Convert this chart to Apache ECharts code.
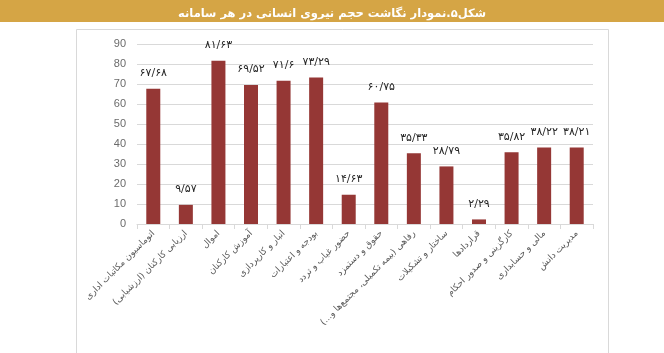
<!DOCTYPE html>
<html>
<head>
<meta charset="utf-8">
<script src="https://cdn.jsdelivr.net/npm/echarts@6/dist/echarts.min.js"></script>
<style>
html, body { margin: 0; padding: 0; background: #fff; }
#main { width: 664px; height: 353px; }
</style>
</head>
<body>
<div id="main" dir="rtl"></div>
<script>
var titleText = 'شکل۵.نمودار نگاشت حجم نیروی انسانی در هر سامانه';

var systems = [
	'اتوماسیون مکاتبات اداری',
	'ارزیابی کارکنان (ارزشیابی)',
	'اموال',
	'آموزش کارکنان',
	'انبار و کارپردازی',
	'بودجه و اعتبارات',
	'حضور غیاب و تردد',
	'حقوق و دستمزد',
	'رفاهی (بیمه تکمیلی، مجتمع‌ها و...)',
	'ساختار و تشکیلات',
	'قراردادها',
	'کارگزینی و صدور احکام',
	'مالی و حسابداری',
	'مدیریت دانش'
];

var staffVolume = [67.68, 9.57, 81.63, 69.52, 71.6, 73.29, 14.63, 60.75, 35.33, 28.79, 2.29, 35.82, 38.22, 38.21];

var yTicks = [0, 10, 20, 30, 40, 50, 60, 70, 80, 90];

var faDigits = '۰۱۲۳۴۵۶۷۸۹';
function toFa(v){
	return String(v).replace('.', '/').replace(/[0-9]/g, function(d){
		return faDigits[+d];
	});
}

var myChart = echarts.init(document.getElementById('main'));

var option = {
	animation: false,
	backgroundColor: '#ffffff',
	graphic: [
		{
			type: 'rect',
			z: -1,
			shape: {x: 0, y: 0, width: 664, height: 22},
			style: {fill: '#d5a545'}
		},
		{
			type: 'rect',
			z: -1,
			shape: {x: 76.5, y: 29.5, width: 532, height: 330},
			style: {fill: 'none', stroke: '#d9d9d9', lineWidth: 1}
		}
	],
	title: {
		text: titleText,
		left: 'center',
		top: 3,
		textStyle: {
			color: '#ffffff',
			fontSize: 11.5,
			fontWeight: 'bold',
			fontFamily: 'DejaVu Sans'
		}
	},
	grid: {
		left: 137,
		right: 71,
		top: 44,
		bottom: 129
	},
	xAxis: {
		type: 'category',
		data: systems,
		axisLine: {lineStyle: {color: '#d9d9d9'}},
		axisTick: {show: true, length: 5, lineStyle: {color: '#d9d9d9'}},
		axisLabel: {
			interval: 0,
			rotate: 45,
			margin: 8,
			color: '#595959',
			fontSize: 9,
			fontFamily: 'DejaVu Sans'
		}
	},
	yAxis: {
		type: 'value',
		min: yTicks[0],
		max: yTicks[yTicks.length - 1],
		interval: 10,
		axisLine: {show: false},
		axisTick: {show: false},
		axisLabel: {
			color: '#6b6b6b',
			fontSize: 11,
			margin: 11,
			fontFamily: 'Liberation Sans'
		},
		splitLine: {lineStyle: {color: '#d9d9d9'}}
	},
	series: [
		{
			name: 'حجم نیروی انسانی',
			type: 'bar',
			data: staffVolume,
			barWidth: 14,
			itemStyle: {color: '#953735'},
			label: {
				show: true,
				position: 'top',
				distance: 10,
				color: '#262626',
				fontSize: 11,
				fontFamily: 'DejaVu Sans',
				formatter: function(p){ return toFa(p.value); }
			}
		}
	]
};

myChart.setOption(option);
</script>
</body>
</html>
